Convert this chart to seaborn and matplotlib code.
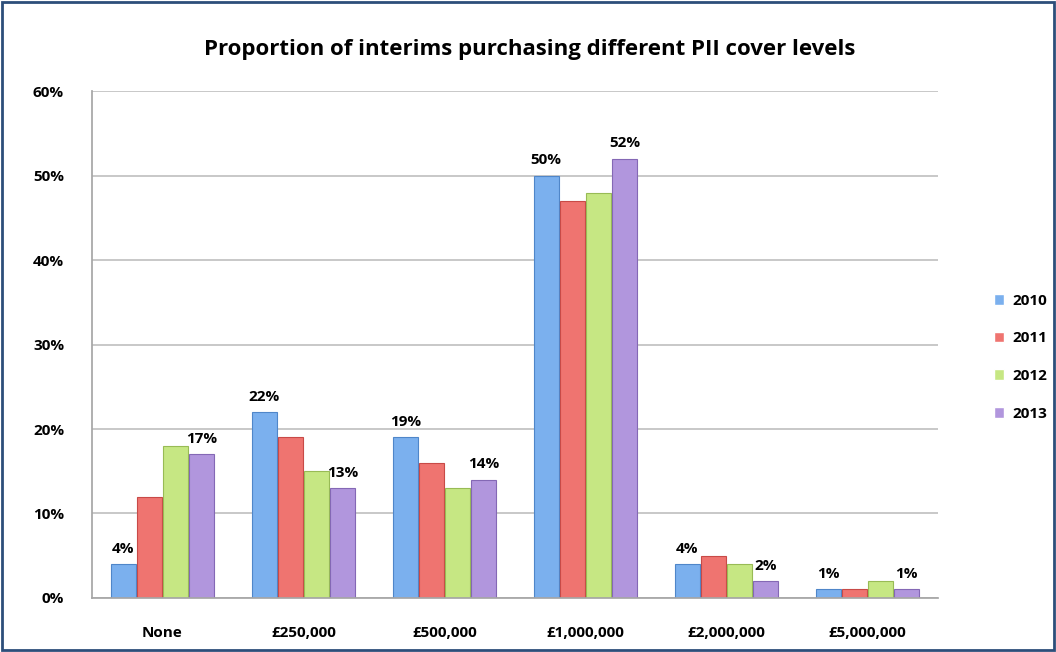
import matplotlib
matplotlib.use("Agg")
import matplotlib.pyplot as plt
import seaborn as sns
import pandas as pd
from matplotlib.patches import Rectangle

categories = ["None", "£250,000", "£500,000", "£1,000,000", "£2,000,000", "£5,000,000"]
years = ["2010", "2011", "2012", "2013"]
v2010 = [4, 22, 19, 50, 4, 1]
v2011 = [12, 19, 16, 47, 5, 1]
v2012 = [18, 15, 13, 48, 4, 2]
v2013 = [17, 13, 14, 52, 2, 1]
y_ticks = [0, 10, 20, 30, 40, 50, 60]
title = "Proportion of interims purchasing different PII cover levels"

series = {"2010": v2010, "2011": v2011, "2012": v2012, "2013": v2013}
rows = []
for yr in years:
    for c, v in zip(categories, series[yr]):
        rows.append({"cat": c, "year": yr, "val": v})
df = pd.DataFrame(rows)

sns.set_theme(style="white")
plt.rcParams["font.family"] = ["Open Sans", "DejaVu Sans"]
plt.rcParams["font.weight"] = "bold"

colors = ["#7BB0EE", "#EF7470", "#C6E783", "#B196DD"]
edges = ["#4F86C9", "#C84A47", "#98BB55", "#8468B5"]

fig = plt.figure(figsize=(10.56, 6.52), dpi=100)
ax = fig.add_axes([0.087, 0.083, 0.801, 0.777])

sns.barplot(data=df, x="cat", y="val", hue="year", hue_order=years,
            order=categories, palette=colors, width=0.74, gap=0.04,
            ax=ax, legend=True, saturation=1)

for cont, ec in zip(ax.containers, edges):
    for p in cont:
        p.set_edgecolor(ec)
        p.set_linewidth(0.8)

# data labels for 2010 and 2013
for idx in (0, 3):
    cont = ax.containers[idx]
    ax.bar_label(cont, labels=[f"{int(v)}%" for v in cont.datavalues],
                 padding=6, fontsize=11, fontweight="bold", color="black")

ax.set_ylim(0, 60)
ax.set_xlim(-0.5, len(categories) - 0.5)
ax.set_yticks(y_ticks)
ax.set_yticklabels([f"{t}%" for t in y_ticks])
ax.set_xticks(range(len(categories)))
ax.set_xticklabels(categories)
ax.tick_params(axis="x", labelsize=11, pad=20, length=0)
ax.tick_params(axis="y", labelsize=11, length=0, pad=20)
plt.setp(ax.get_xticklabels(), fontweight="bold", color="black")
plt.setp(ax.get_yticklabels(), fontweight="bold", color="black")
ax.set_xlabel("")
ax.set_ylabel("")
ax.yaxis.grid(True, color="#BFBFBF", linewidth=1.2)
ax.set_axisbelow(True)
for s in ["top", "right"]:
    ax.spines[s].set_visible(False)
ax.spines["left"].set_color("#A6A6A6")
ax.spines["bottom"].set_color("#A6A6A6")

ax.set_title(title, fontsize=16, fontweight="bold", pad=26, color="black", x=0.518)

leg = ax.legend(loc="center left", bbox_to_anchor=(1.05, 0.475), frameon=False,
                fontsize=11, handlelength=0.7, handleheight=0.7,
                labelspacing=1.55, handletextpad=0.5)
for t in leg.get_texts():
    t.set_fontweight("bold")
    t.set_color("black")

fig.patches.append(Rectangle((0.002, 0.003), 0.996, 0.994, transform=fig.transFigure,
                             fill=False, edgecolor="#2D4E7A", linewidth=2.0))

fig.savefig("out.png", dpi=100)
